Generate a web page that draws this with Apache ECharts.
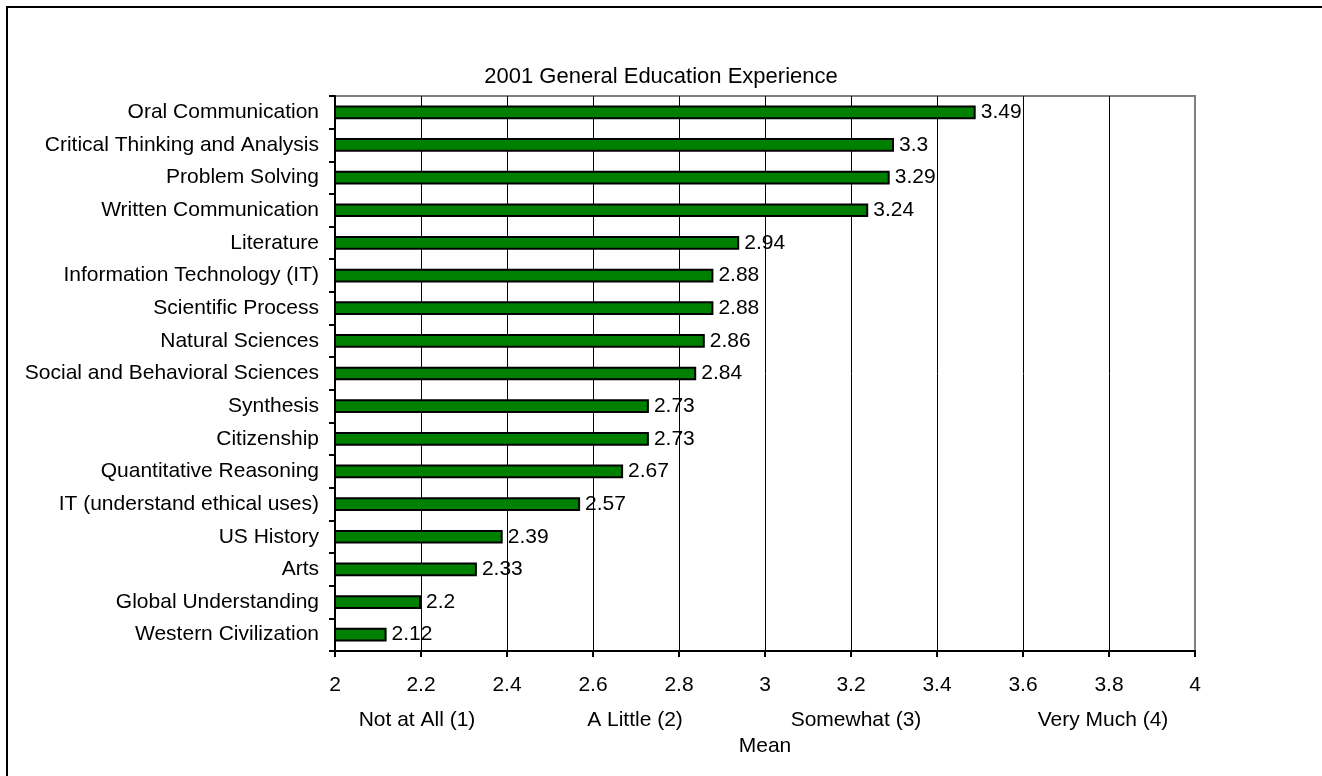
<!DOCTYPE html>
<html>
<head>
<meta charset="utf-8">
<script src="https://cdn.jsdelivr.net/npm/echarts@6/dist/echarts.min.js"></script>
<style>html,body{margin:0;padding:0;background:#fff}#c{width:1322px;height:776px}</style>
</head>
<body>
<div id="c"></div>
<script>
const title = '2001 General Education Experience';
const categories = ['Oral Communication','Critical Thinking and Analysis','Problem Solving','Written Communication','Literature','Information Technology (IT)','Scientific Process','Natural Sciences','Social and Behavioral Sciences','Synthesis','Citizenship','Quantitative Reasoning','IT (understand ethical uses)','US History','Arts','Global Understanding','Western Civilization'];
const values = [3.49,3.3,3.29,3.24,2.94,2.88,2.88,2.86,2.84,2.73,2.73,2.67,2.57,2.39,2.33,2.2,2.12];
const scaleLabels = ['Not at All (1)','A Little (2)','Somewhat (3)','Very Much (4)'];
const axisName = 'Mean';

const FONT = "'Liberation Sans', Arial, sans-serif";
const FS = 21;
const chart = echarts.init(document.getElementById('c'));
const gridColors = ['#000','#000','#000','#000','#000','#000','#000','#000','#000','#000','#808080'];
const scaleX = [417, 635, 856, 1103];
chart.setOption({
  animation: false,
  backgroundColor: '#fff',
  textStyle: {fontFamily: FONT},
  title: {text: title, left: 'center', top: 61, textStyle: {fontFamily: FONT, fontSize: 22, fontWeight: 'normal', color: '#000'}},
  grid: {left: 335, right: 127, top: 96, bottom: 125, show: true, borderColor: '#808080', borderWidth: 2, backgroundColor: 'transparent'},
  xAxis: {
    type: 'value', min: 2, max: 4, interval: 0.2,
    axisLine: {show: true, lineStyle: {color: '#000', width: 2}},
    axisTick: {show: true, length: 6, lineStyle: {color: '#000', width: 2}},
    axisLabel: {margin: 24, fontFamily: FONT, fontSize: FS, color: '#000', formatter: v => String(+v.toFixed(1))},
    splitLine: {show: true, lineStyle: {color: gridColors, width: 1}}
  },
  yAxis: {
    type: 'category', data: categories, inverse: true,
    axisLine: {show: true, lineStyle: {color: '#000', width: 2}},
    axisTick: {show: true, length: 6, lineStyle: {color: '#000', width: 2}},
    axisLabel: {margin: 16, fontFamily: FONT, fontSize: FS, color: '#000'},
    splitLine: {show: false}
  },
  series: [{
    type: 'bar', data: values, barCategoryGap: '58%',
    itemStyle: {color: '#008000', borderColor: '#000', borderWidth: 2},
    label: {show: true, position: 'right', distance: 5, fontFamily: FONT, fontSize: FS, color: '#000'}
  }],
  graphic: [
    {type: 'rect', shape: {x: 7, y: 7, width: 1400, height: 1000}, style: {fill: 'none', stroke: '#000', lineWidth: 2}, silent: true},
    ...scaleLabels.map((t, i) => ({type: 'text', x: scaleX[i], y: 720, style: {text: t, fontFamily: FONT, fontSize: FS, fill: '#000', textAlign: 'center', textVerticalAlign: 'middle'}})),
    {type: 'text', x: 765, y: 746, style: {text: axisName, fontFamily: FONT, fontSize: FS, fill: '#000', textAlign: 'center', textVerticalAlign: 'middle'}}
  ]
});
</script>
</body>
</html>
